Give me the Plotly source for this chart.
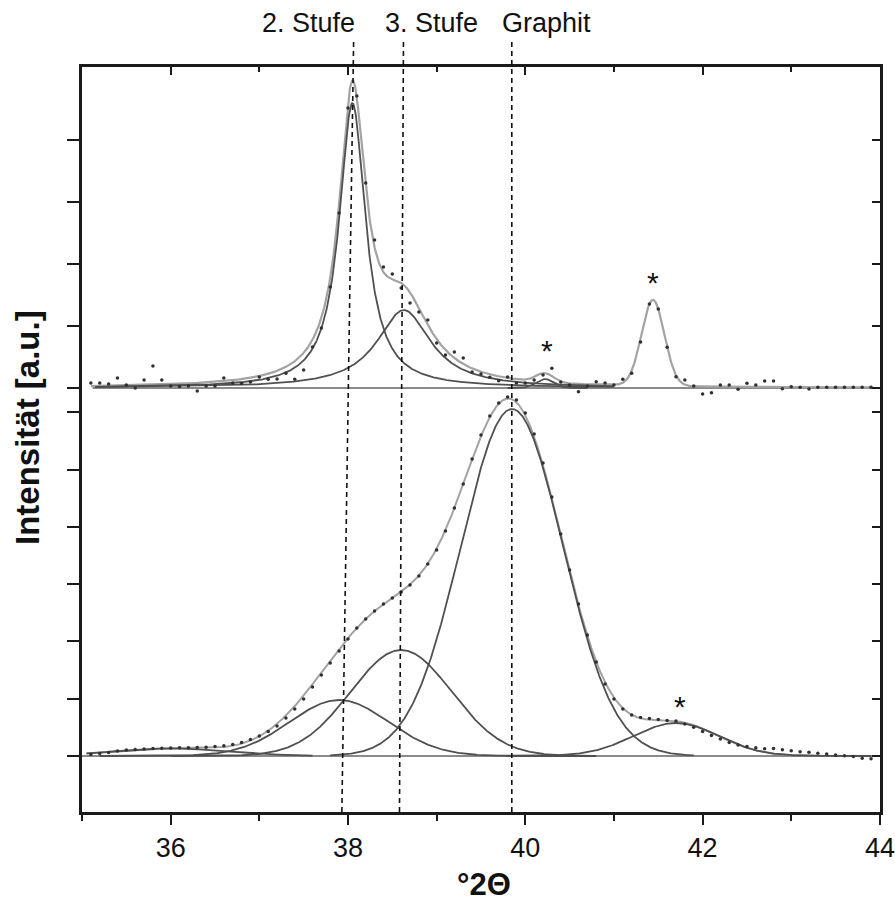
import numpy as np
import plotly.graph_objects as go

# ---------------- data ----------------
# measurement grid in °2Θ (0.1° step)
theta = np.round(np.arange(35.1, 43.95, 0.1), 1)

# upper pattern: measured points (a.u., relative to its own baseline)
top_counts = [5, 5, 4, 10, 3, 0, 8, 22, 8, 2,
              1.5, 2, -3, 2, 2, 10, 5, 4.5, 6, 11,
              8.7, 9, 14.7, 8.7, 18, 41, 60, 101, 175, 280,
              292, 205, 148, 121, 114, 100, 85, 76, 68, 45,
              33, 36, 30, 16, 14, 10.7, 7.3, 11, 5, 5,
              8, 13, 19.7, 6, 3, -3.7, 2, 6.3, 5, 3,
              8.7, 14.7, 46, 84, 79, 40.7, 11.3, 8, 2, -6,
              -4.7, 3, 3, -1.3, 4.7, 3, 7, 7, -0.7, 1.3,
              0.7, -1, 0.7, 0.7, 0.7, 0.7, 0.7, 0.7, 0.7]

# lower pattern: measured points
bottom_counts = [1.5, 2.5, 3.5, 5, 6, 6.5, 7, 7.5, 7.8, 8,
                 8.2, 8.3, 8.6, 8.8, 9.5, 10.3, 11.5, 13.5, 16.5, 20,
                 24.5, 30, 38, 47, 57, 69, 81, 93, 105, 117,
                 128, 137, 145, 152, 158, 164, 171, 180, 192, 206,
                 225, 248, 272, 297, 321, 340, 353, 359, 356, 343,
                 322, 293, 259, 222, 186, 152, 121, 94, 72, 57,
                 47, 41, 38.5, 37.5, 36.5, 35.5, 35, 32, 28.7, 24.5,
                 20.5, 17, 13.5, 11, 9.5, 8.3, 7.2, 7.5, 6.3, 5.3,
                 4.3, 3.7, 2.7, 2, 1, 0.3, -0.5, -2.3, -2.7]

# fitted reflections, upper pattern (centre °2Θ, height, half width, profile)
top_centres = [38.05, 38.63, 40.22]
top_heights = [285, 78, 9]
top_widths = [0.18, 0.37, 0.10]
top_profiles = ["lorentz", "lorentz", "gauss"]
top_ranges = [(35.15, 41.0), (35.15, 41.0), (39.8, 40.7)]
# impurity reflection (*) that is only part of the envelope
imp_centre, imp_height, imp_width = 41.44, 86, 0.128

# fitted reflections, lower pattern (Gaussian: centre, height, sigma)
bot_centres = [36.0, 37.9, 38.6, 39.85, 41.7]
bot_heights = [7.5, 56, 106, 347, 33]
bot_sigmas = [0.65, 0.56, 0.57, 0.575, 0.48]
bot_ranges = [(35.05, 37.6), (35.2, 40.8), (36.0, 40.8), (37.8, 41.9), (39.8, 43.9)]

# reference reflection lines (°2Θ at top and at bottom of the frame)
ref_names = ["2. Stufe", "3. Stufe", "Graphit"]
ref_top = [38.064, 38.626, 39.848]
ref_bottom = [37.931, 38.581, 39.848]
ref_label_x = [37.56, 38.945, 40.24]

# asterisks (impurity reflections): (°2Θ, a.u.)
star_x = [40.24, 41.44, 41.74]
star_y = [413, 481, 57]

TOP_OFFSET = 368          # vertical offset of the upper pattern
Y_RANGE = [-56, 689]
X_RANGE = [35, 44.001]
left_ticks = [0, 57.3, 114.6, 171.9, 229.2, 286.5, 343.8, 368, 430, 492, 554, 616]

# ---------------- profiles ----------------
def gauss(x, c, h, s):
    return h * np.exp(-(x - c) ** 2 / (2 * s ** 2))

def lorentz(x, c, h, g):
    return h / (1 + ((x - c) / g) ** 2)

def prof(kind, x, c, h, w):
    return lorentz(x, c, h, w) if kind == "lorentz" else gauss(x, c, h, w)

xf = np.linspace(35.1, 43.9, 1761)
xb = np.linspace(35.05, 43.9, 1771)

COMP = "#505050"
SUM = "#a3a3a3"
BASE = "#8a8a8a"
DOT = "#303030"

fig = go.Figure()

# baselines
fig.add_trace(go.Scatter(x=[35.12, 44], y=[TOP_OFFSET, TOP_OFFSET], mode="lines",
                         line=dict(color=BASE, width=2), hoverinfo="skip"))
fig.add_trace(go.Scatter(x=[35, 44], y=[0, 0], mode="lines",
                         line=dict(color=BASE, width=2), hoverinfo="skip"))

# ---- upper pattern ----
top_sum = sum(prof(k, xf, c, h, w) for k, c, h, w in
              zip(top_profiles, top_centres, top_heights, top_widths))
top_sum = top_sum + gauss(xf, imp_centre, imp_height, imp_width)
fig.add_trace(go.Scatter(x=xf, y=top_sum + TOP_OFFSET, mode="lines",
                         line=dict(color=SUM, width=2.2), hoverinfo="skip"))
for k, c, h, w, (a, b) in zip(top_profiles, top_centres, top_heights, top_widths, top_ranges):
    xx = np.linspace(a, b, 900)
    fig.add_trace(go.Scatter(x=xx, y=prof(k, xx, c, h, w) + TOP_OFFSET, mode="lines",
                             line=dict(color=COMP, width=1.8), hoverinfo="skip"))
fig.add_trace(go.Scatter(x=theta, y=np.array(top_counts) + TOP_OFFSET, mode="markers",
                         marker=dict(color=DOT, size=3.5), hoverinfo="skip"))

# ---- lower pattern ----
bot_sum = sum(gauss(xb, c, h, s) for c, h, s in zip(bot_centres, bot_heights, bot_sigmas))
fig.add_trace(go.Scatter(x=xb, y=bot_sum, mode="lines",
                         line=dict(color=SUM, width=2), hoverinfo="skip"))
for c, h, s, (a, b) in zip(bot_centres, bot_heights, bot_sigmas, bot_ranges):
    xx = np.linspace(a, b, 900)
    fig.add_trace(go.Scatter(x=xx, y=gauss(xx, c, h, s), mode="lines",
                             line=dict(color=COMP, width=1.8), hoverinfo="skip"))
fig.add_trace(go.Scatter(x=theta, y=bottom_counts, mode="markers",
                         marker=dict(color=DOT, size=3.5), hoverinfo="skip"))

# dummy trace for the mirrored (top / right) axes
fig.add_trace(go.Scatter(x=[35], y=[0], xaxis="x2", yaxis="y2", mode="markers",
                         marker=dict(opacity=0), hoverinfo="skip"))

FONT = "Liberation Sans, Arial, Helvetica, sans-serif"
AX = "#1a1a1a"

# reference dashed lines
shapes = []
PLOT_TOP, PLOT_BOTTOM = 67, 812
line_top_paper = (PLOT_BOTTOM - 40) / (PLOT_BOTTOM - PLOT_TOP)
for xt, xbm in zip(ref_top, ref_bottom):
    shapes.append(dict(type="line", xref="x", yref="paper", x0=xbm, y0=0, x1=xt,
                       y1=line_top_paper, line=dict(color="#111", width=1.6, dash="5px,4px"),
                       layer="above"))

annotations = []
label_y = (PLOT_BOTTOM - 23) / (PLOT_BOTTOM - PLOT_TOP)
for name, lx in zip(ref_names, ref_label_x):
    annotations.append(dict(text=name, x=lx, y=label_y, xref="x", yref="paper",
                            showarrow=False, xanchor="center", yanchor="middle",
                            font=dict(family=FONT, size=27, color="#111")))
for sx, sy in zip(star_x, star_y):
    annotations.append(dict(text="*", x=sx, y=sy - 7, xref="x", yref="y",
                            showarrow=False, xanchor="center", yanchor="middle",
                            font=dict(family=FONT, size=30, color="#111")))
annotations.append(dict(text="<b>°2Θ</b>", x=(484 - 82) / 798, y=(PLOT_BOTTOM - 884) / 745,
                        xref="paper", yref="paper", showarrow=False,
                        xanchor="center", yanchor="middle",
                        font=dict(family=FONT, size=31, color="#111")))
annotations.append(dict(text="<b>Intensität [a.u.]</b>", x=(28 - 82) / 798,
                        y=(PLOT_BOTTOM - 428) / 745, xref="paper", yref="paper",
                        showarrow=False, textangle=-90, xanchor="center", yanchor="middle",
                        font=dict(family=FONT, size=33, color="#111")))

fig.update_layout(
    width=895, height=907,
    margin=dict(l=82, r=15, t=67, b=95, autoexpand=False),
    paper_bgcolor="white", plot_bgcolor="white",
    showlegend=False,
    font=dict(family=FONT, color="#111"),
    xaxis=dict(range=X_RANGE, showline=True, linecolor=AX, linewidth=2.5,
               ticks="outside", ticklen=10, tickwidth=2, tickcolor=AX,
               tick0=36, dtick=2, showgrid=False, zeroline=False,
               tickfont=dict(family=FONT, size=27, color="#111"),
               ticklabeloverflow="allow", automargin=False,
               minor=dict(dtick=1, tick0=35, ticks="outside", ticklen=6,
                          tickwidth=2, tickcolor=AX, showgrid=False)),
    xaxis2=dict(range=X_RANGE, overlaying="x", side="top", anchor="y",
                showline=True, linecolor=AX, linewidth=2.5,
                ticks="inside", ticklen=8, tickwidth=2, tickcolor=AX,
                tick0=36, dtick=2, showticklabels=False, showgrid=False, zeroline=False,
                automargin=False,
                minor=dict(dtick=1, tick0=35, ticks="inside", ticklen=5,
                           tickwidth=2, tickcolor=AX, showgrid=False)),
    yaxis=dict(range=Y_RANGE, showline=True, linecolor=AX, linewidth=2.5,
               ticks="outside", ticklen=12, tickwidth=2, tickcolor=AX,
               tickmode="array", tickvals=left_ticks, showticklabels=False,
               showgrid=False, zeroline=False, automargin=False),
    yaxis2=dict(range=Y_RANGE, overlaying="y", side="right", anchor="x",
                showline=True, linecolor=AX, linewidth=2.5,
                ticks="inside", ticklen=8, tickwidth=2, tickcolor=AX,
                tickmode="array", tickvals=left_ticks, showticklabels=False,
                showgrid=False, zeroline=False, automargin=False),
    shapes=shapes,
    annotations=annotations,
)

fig.write_html("out.html")
